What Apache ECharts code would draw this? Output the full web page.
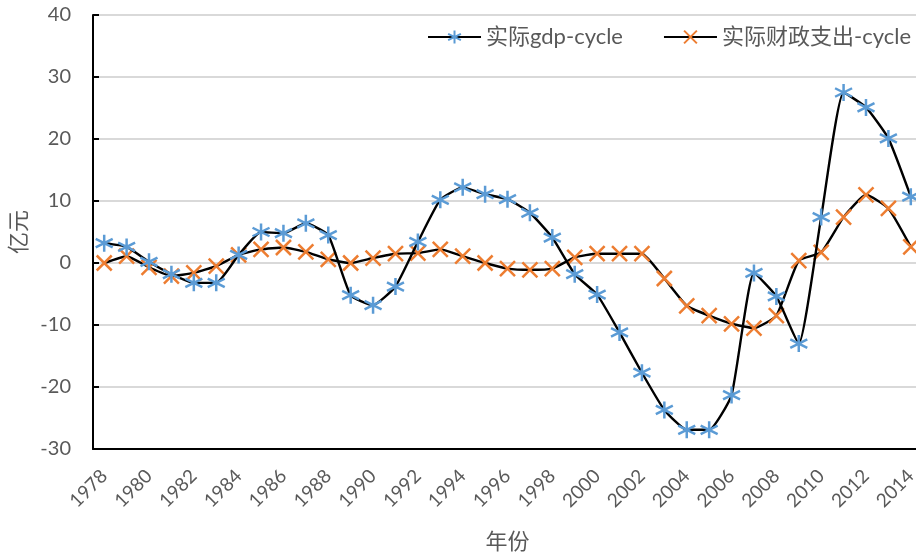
<!DOCTYPE html>
<html>
<head>
<meta charset="utf-8">
<script src="https://cdn.jsdelivr.net/npm/echarts@6/dist/echarts.min.js"></script>
<style>
  html, body { margin: 0; padding: 0; background: #fff; }
  #chart { width: 916px; height: 556px; }
</style>
</head>
<body>
<div id="chart"></div>
<script>
// 年份
const years = []
for (let y = 1978; y <= 2014; y++) years.push(String(y))

// 实际gdp-cycle
const gdpCycle = [3.2, 2.6, 0.2, -1.8, -3.2, -3.2, 1.3, 5.0, 4.8, 6.4,
  4.5, -5.2, -6.8, -3.8, 3.4, 10.2, 12.2, 11.1, 10.3, 8.1,
  4.1, -1.8, -5.1, -11.2, -17.7, -23.7, -26.9, -26.9, -21.3, -1.6,
  -5.4, -13.0, 7.4, 27.5, 25.1, 20.1, 10.7]

// 实际财政支出-cycle
const fiscalCycle = [0.0, 1.1, -0.7, -2.1, -1.6, -0.5, 1.3, 2.2, 2.5, 1.8,
  0.6, 0.0, 0.8, 1.5, 1.6, 2.2, 1.1, 0.0, -0.9, -1.1,
  -0.9, 0.9, 1.5, 1.5, 1.5, -2.5, -6.9, -8.5, -9.8, -10.5,
  -8.5, 0.4, 1.7, 7.4, 11.0, 8.8, 2.6]

const yTicks = { min: -30, max: 40, interval: 10 }

const font = "Lato, 'Noto Sans CJK SC', sans-serif"
const grey = '#595959'
// 星形和叉形标记
const starPath = 'path://M5,0L5,10M0.7,2.5L9.3,7.5M0.7,7.5L9.3,2.5'
const crossPath = 'path://M0,0L10,10M10,0L0,10'

const chart = echarts.init(document.getElementById('chart'))
chart.setOption({
  animation: false,
  textStyle: { fontFamily: font },
  grid: { left: 93, right: -6, top: 15, bottom: 107, containLabel: false, outerBoundsMode: 'none' },
  legend: {
    top: 21,
    right: 0,
    itemWidth: 53,
    itemHeight: 16,
    itemGap: 40,
    textStyle: { fontSize: 22, color: grey, fontFamily: font },
    data: ['实际gdp-cycle', '实际财政支出-cycle']
  },
  xAxis: {
    type: 'category',
    data: years,
    boundaryGap: true,
    name: '年份',
    nameLocation: 'middle',
    nameGap: 82,
    nameTextStyle: { fontSize: 22, color: grey, fontFamily: font },
    axisLine: { onZero: false, lineStyle: { color: '#000', width: 2 } },
    axisTick: { inside: true, length: 6, interval: 0, lineStyle: { color: '#000', width: 1.5 } },
    axisLabel: { interval: 1, rotate: 45, fontSize: 19, color: grey, margin: 24 },
    splitLine: { show: false }
  },
  yAxis: {
    type: 'value',
    min: yTicks.min,
    max: yTicks.max,
    interval: yTicks.interval,
    name: '亿元',
    nameLocation: 'middle',
    nameGap: 62,
    nameRotate: 90,
    nameTextStyle: { fontSize: 22, color: grey, fontFamily: font },
    axisLine: { show: true, lineStyle: { color: '#000', width: 2 } },
    axisTick: { show: true, inside: true, length: 6, lineStyle: { color: '#000', width: 2 } },
    axisLabel: { fontSize: 20, color: grey, margin: 22 },
    splitLine: { lineStyle: { color: '#d9d9d9', width: 2 } }
  },
  series: [
    {
      name: '实际gdp-cycle',
      type: 'line',
      data: gdpCycle,
      smooth: 0.15,
      showAllSymbol: true,
      symbol: starPath,
      symbolSize: 17,
      lineStyle: { color: '#000', width: 2.4 },
      itemStyle: { color: '#5b9bd5', borderColor: '#5b9bd5', borderWidth: 2.5 },
      z: 3
    },
    {
      name: '实际财政支出-cycle',
      type: 'line',
      data: fiscalCycle,
      smooth: 0.15,
      showAllSymbol: true,
      symbol: crossPath,
      symbolSize: 15,
      lineStyle: { color: '#000', width: 2.4 },
      itemStyle: { color: '#ed7d31', borderColor: '#ed7d31', borderWidth: 2.5 },
      z: 2
    }
  ]
})
</script>
</body>
</html>
